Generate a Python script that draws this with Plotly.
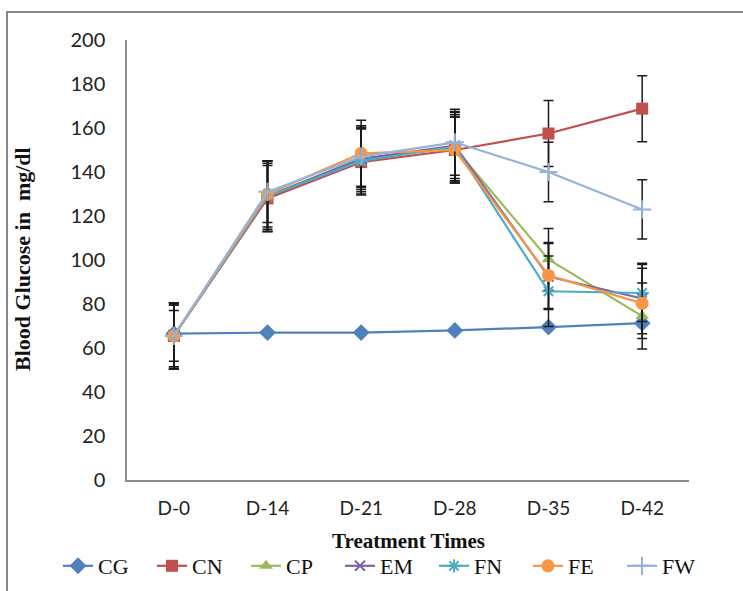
import plotly.graph_objects as go

categories = ["D-0", "D-14", "D-21", "D-28", "D-35", "D-42"]

series_names = ["CG", "CN", "CP", "EM", "FN", "FE", "FW"]
cg = [66.5, 67, 67, 68, 69.5, 71.3]
cn = [65.5, 128, 144.5, 150, 157.5, 168.8]
cp = [65.5, 129, 146, 151, 100.3, 74.5]
em = [65.5, 129, 146, 152, 92.5, 82.5]
fn = [65.5, 129, 145, 151.5, 85.8, 85]
fe = [65.5, 130, 148.5, 150, 93, 80.3]
fw = [65.5, 131, 147, 153.5, 140, 123]

cg_err = None
cn_err = [15, 15, 15, 15, 15, 15]
cp_err = [14, 16, 15, 15, 14, 15]
em_err = [15, 15, 14, 15, 15, 16]
fn_err = [14, 16, 15, 16, 16, 13]
fe_err = [15, 15, 15, 15, 15, 16]
fw_err = [11.5, 14, 14, 15, 13.5, 13.5]

colors = ["#4F81BD", "#C0504D", "#9BBB59", "#8064A2", "#4BACC6", "#F79646", "#95B3D7"]
symbols = ["diamond", "square", "triangle-up", "x-thin", "asterisk", "circle", "cross-thin"]
sizes = [13, 12, 12, 10, 11, 13, 13]

values = [cg, cn, cp, em, fn, fe, fw]
errors = [cg_err, cn_err, cp_err, em_err, fn_err, fe_err, fw_err]

fig = go.Figure()
for name, vals, err, col, sym, sz in zip(series_names, values, errors, colors, symbols, sizes):
    thin = sym.endswith("thin") or sym == "asterisk"
    marker = dict(symbol=sym, size=sz, color=col,
                  line=dict(color=col, width=2 if thin else 0))
    ey = dict(type="data", array=err, visible=True, color="#1a1a1a",
              thickness=1.5, width=5) if err is not None else dict(visible=False)
    fig.add_trace(go.Scatter(
        x=categories, y=vals, name=name, mode="lines+markers",
        line=dict(color=col, width=2.2), marker=marker, error_y=ey,
    ))

fig.update_layout(
    width=743, height=591,
    margin=dict(l=127, r=54, t=40, b=111, autoexpand=False),
    plot_bgcolor="white", paper_bgcolor="white",
    showlegend=True,
    legend=dict(orientation="h", xref="paper", yref="paper",
                x=(58 - 127) / 562, xanchor="left", y=(480 - 566) / 440, yanchor="middle",
                font=dict(family="Liberation Serif", size=22, color="#111"),
                entrywidth=49, entrywidthmode="pixels", itemwidth=30,
                bgcolor="rgba(0,0,0,0)", tracegroupgap=0),
    xaxis=dict(type="category", range=[-0.5, 5.5], showgrid=False, zeroline=False,
               showline=True, linecolor="#8c8c8c", linewidth=1.5, ticks="",
               tickfont=dict(family="Lato", size=19, color="#222"), ticklabelstandoff=10),
    yaxis=dict(range=[0, 200], dtick=20, showgrid=False, zeroline=False,
               showline=True, linecolor="#8c8c8c", linewidth=1.5, ticks="",
               tickfont=dict(family="Lato", size=20, color="#222"), ticklabelstandoff=16),
    annotations=[
        dict(text="<b>Treatment Times</b>", xref="paper", yref="paper",
             x=(408 - 127) / 562, y=(480 - 541) / 440, showarrow=False,
             xanchor="center", yanchor="middle",
             font=dict(family="Liberation Serif", size=21, color="#111")),
        dict(text="<b>Blood Glucose in\u00a0\u00a0mg/dl</b>", xref="paper", yref="paper",
             x=(22 - 127) / 562, y=(480 - 259) / 440, showarrow=False, textangle=-90,
             xanchor="center", yanchor="middle",
             font=dict(family="Liberation Serif", size=22, color="#111")),
    ],
    shapes=[
        dict(type="rect", xref="paper", yref="paper",
             x0=(7 - 127) / 562, x1=(760 - 127) / 562,
             y0=(480 - 610) / 440, y1=(480 - 12) / 440,
             line=dict(color="#878787", width=2), fillcolor="rgba(0,0,0,0)", layer="below"),
    ],
)

fig.write_html("out.html", config={"displayModeBar": False},
               post_script="document.body.style.margin='0';document.body.style.overflow='hidden';")
